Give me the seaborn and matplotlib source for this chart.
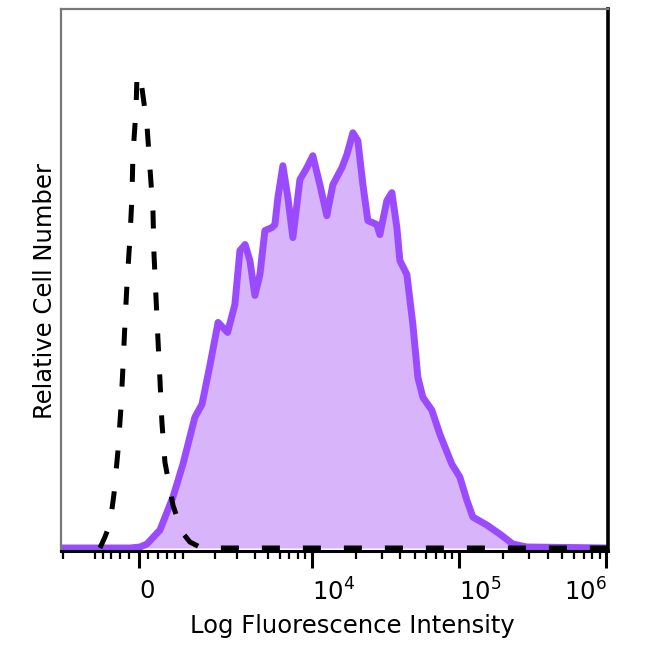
import numpy as np
import pandas as pd
import matplotlib
matplotlib.use("Agg")
import matplotlib.pyplot as plt
import seaborn as sns

# ---- data ----
# stained sample: fluorescence intensity vs relative cell number
stained_x = [-2080, -190, 21, 169, 451, 751, 1003, 1335, 1555, 1829, 2128, 2527,
             2869, 3129, 3414, 3700, 4019, 4362, 4732, 5302, 5560, 5835, 6321,
             6845, 7410, 7895, 8282, 9245, 10160, 11350, 12660, 13920, 16030,
             17330, 19050, 20590, 22280, 24080, 27720, 29050, 32410, 35050,
             37900, 39720, 44300, 48660, 52610, 56880, 65480, 74170, 89460,
             101400, 113000, 124200, 154500, 189200, 231800, 288600, 1025000]
stained_count = [0, 0, 1, 4, 18, 51, 84, 131, 144, 184, 226, 216,
                 244, 298, 304, 288, 253, 274, 318, 321, 324, 351, 383,
                 351, 311, 344, 369, 381, 393, 364, 333, 364, 381,
                 394, 416, 408, 364, 328, 324, 314, 348, 356,
                 321, 288, 274, 224, 171, 151, 138, 114, 84,
                 71, 48, 31, 23, 14, 4, 1, 0]

# isotype / unstained control
control_x = [-874, -751, -632, -540, -451, -385, -341, -298, -254, -190, -148,
             -127, -63, -42, -21, 63, 169, 233, 298, 319, 362, 406, 451, 495,
             563, 751, 976, 1192, 1484, 2211, 1025000]
control_count = [0, 11, 24, 54, 97, 140, 181, 224, 264, 311, 351,
                 394, 438, 471, 475, 461, 424, 381, 338, 296, 253, 210, 169, 126,
                 86, 43, 16, 6, 1, 0, 0]

tick_values = [0, 1e4, 1e5, 1e6]
tick_labels = ["0", "$10^4$", "$10^5$", "$10^6$"]
minor_tick_values = ([-2000, -1000, -800, -600, -400, -200, 200, 400, 600, 800, 1000]
                     + [k * 1e3 for k in range(2, 10)]
                     + [k * 1e4 for k in range(2, 10)]
                     + [k * 1e5 for k in range(2, 10)])

stained = pd.DataFrame({"intensity": stained_x, "count": stained_count})
control = pd.DataFrame({"intensity": control_x, "count": control_count})

# ---- style ----
sns.set_style("white")
plt.rcParams["font.family"] = ["DejaVu Sans"]
plt.rcParams["mathtext.fontset"] = "dejavusans"
plt.rcParams["text.color"] = "black"
plt.rcParams["axes.labelcolor"] = "black"
plt.rcParams["xtick.color"] = "black"
plt.rcParams["xtick.labelcolor"] = "black"

COF = 1350.0


def fwd(v):
    return np.arcsinh(np.asarray(v, dtype=float) / COF)


def inv(u):
    return COF * np.sinh(np.asarray(u, dtype=float))


fig = plt.figure(figsize=(6.5, 6.5), dpi=100)
ax = fig.add_axes([61 / 650, 99 / 650, 547 / 650, 542 / 650])
ax.set_xscale("function", functions=(fwd, inv))

line_color = "#9B4BFF"
fill_color = "#D8B4FA"

ax.fill_between(stained["intensity"], stained["count"], 0,
                color=fill_color, lw=0, zorder=1)
sns.lineplot(data=stained, x="intensity", y="count", ax=ax, color=line_color,
             lw=5, estimator=None, sort=False, zorder=2,
             solid_joinstyle="round", solid_capstyle="round")
sns.lineplot(data=control, x="intensity", y="count", ax=ax, color="black",
             lw=3.6, estimator=None, sort=False, zorder=3)
ax.lines[-1].set_dashes((3.6, 4.6))

ax.set_xlim(-2080, 1025000)
ax.set_ylim(-3, 540)

ax.set_xticks(tick_values)
ax.set_xticklabels(tick_labels)
ax.set_xticks(minor_tick_values, minor=True)
ax.set_yticks([])

ax.tick_params(axis="x", which="both", bottom=True, top=False)
ax.tick_params(axis="x", which="major", length=12, width=2.2, direction="out",
               color="black", labelcolor="black", labelsize=17.5, pad=8)
ax.tick_params(axis="x", which="minor", length=5.5, width=1.6, direction="out",
               color="black")
for lbl, ha in zip(ax.get_xticklabels(), ["left", "left", "left", "right"]):
    lbl.set_ha(ha)

for side in ["left", "top"]:
    ax.spines[side].set_color("#777777")
    ax.spines[side].set_linewidth(1.6)
ax.spines["right"].set_color("black")
ax.spines["right"].set_linewidth(2.6)
ax.spines["bottom"].set_color("black")
ax.spines["bottom"].set_linewidth(2.2)

ax.set_xlabel("Log Fluorescence Intensity", fontsize=17.5, color="black")
ax.set_ylabel("Relative Cell Number", fontsize=17.5, color="black")
ax.xaxis.set_label_coords(0.532, -0.117)
ax.yaxis.set_label_coords(-0.008, 0.48)

fig.savefig("out.png", dpi=100, facecolor="white")
